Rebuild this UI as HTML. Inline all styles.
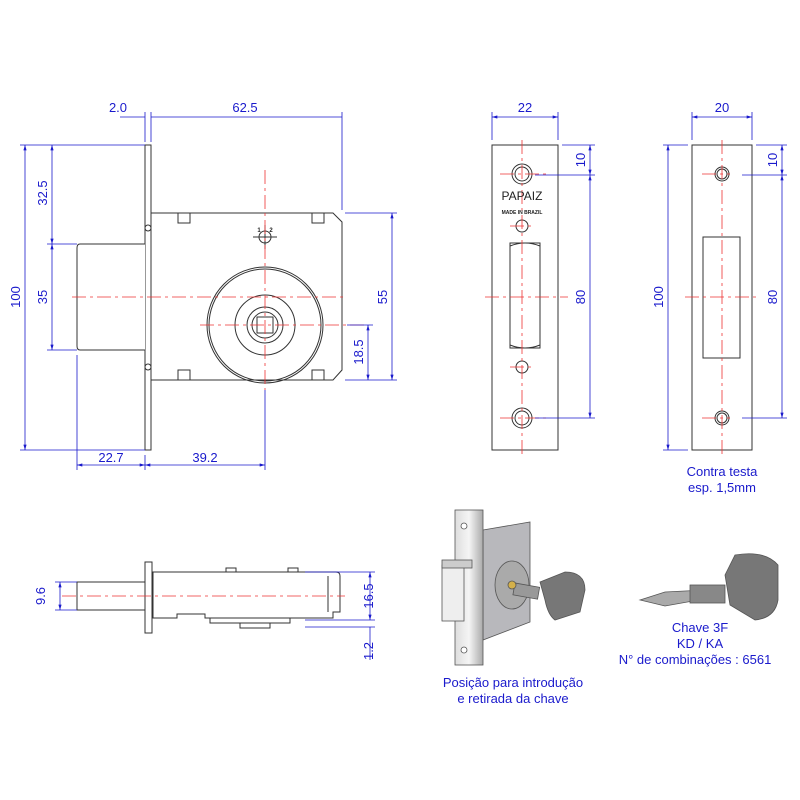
<!DOCTYPE html>
<html><head><style>body{margin:0;background:#fff}svg{display:block}</style></head><body>
<svg width="800" height="800" viewBox="0 0 800 800" xmlns="http://www.w3.org/2000/svg" font-family="Liberation Sans, sans-serif">
<defs><marker id="a" viewBox="0 0 10 6" refX="10" refY="3" markerWidth="8" markerHeight="4" orient="auto-start-reverse"><path d="M0,0L10,3L0,6z" fill="#1a1acc"/></marker>
<linearGradient id="g" x1="0" x2="1"><stop offset="0" stop-color="#ddd"/><stop offset="0.5" stop-color="#f5f5f5"/><stop offset="1" stop-color="#aaa"/></linearGradient></defs>
<g fill="none" stroke="#333" stroke-width="1">
<!-- main view -->
<rect x="145" y="145" width="6" height="305" fill="#fff"/>
<path d="M151 213H333L342 222V370L333 380H151Z" fill="#fff"/>
<path d="M145 244H80Q77 244 77 248V346Q77 350 80 350H145" fill="#fff"/>
<circle cx="265" cy="325" r="58"/><circle cx="265" cy="325" r="56"/><circle cx="265" cy="325" r="30"/>
<circle cx="265" cy="325" r="18"/><circle cx="265" cy="325" r="13"/>
<rect x="257" y="317" width="16" height="16"/>
<path d="M178 213v10h12v-10M312 213v10h12v-10M178 380v-10h12v10M312 380v-10h12v10"/>
<circle cx="265" cy="237" r="6"/><path d="M265 225v24M253 237h24"/>
<circle cx="148" cy="228" r="3"/><circle cx="148" cy="367" r="3"/>
<!-- faceplate -->
<rect x="492" y="145" width="66" height="305"/>
<circle cx="522" cy="174" r="10"/><circle cx="522" cy="174" r="7"/>
<circle cx="522" cy="418" r="10"/><circle cx="522" cy="418" r="7"/>
<circle cx="522" cy="226" r="6"/><circle cx="522" cy="367" r="6"/>
<rect x="510" y="243" width="30" height="105"/>
<path d="M510 246Q525 240 540 246M510 345Q525 351 540 345"/>
<!-- strike -->
<rect x="692" y="145" width="60" height="305"/>
<circle cx="722" cy="174" r="7"/><circle cx="722" cy="174" r="5"/>
<circle cx="722" cy="418" r="7"/><circle cx="722" cy="418" r="5"/>
<rect x="703" y="237" width="37" height="121"/>
<!-- side view -->
<rect x="145" y="562" width="7" height="71"/>
<rect x="77" y="582" width="68" height="28"/>
<path d="M152 572H336Q340 572 340 576V612H333V618H205V614H177V618H153V572"/>
<path d="M328 576V612M226 572v-4h10v4M288 572v-4h10v4M210 618v5h80v-5M240 623v5h30v-5"/>
</g>
<!-- red centerlines -->
<g stroke="#e33" stroke-width="0.8" stroke-dasharray="14,4,3,4" fill="none">
<path d="M72 297H347M200 325H365M265 170V390"/>
<path d="M485 297H568M522 140V455M500 174h50M500 418h50M510 226h25M510 367h25"/>
<path d="M685 297H760M722 140V455M702 174h28M702 418h28"/>
<path d="M62 596H345"/>
</g>
<!-- dimensions -->
<g stroke="#1a1acc" stroke-width="0.8" fill="none">
<path d="M145 142V112M151 142V112M342 210V112M120 117H145M151 117H342" />
<line x1="25" y1="145" x2="25" y2="450" marker-start="url(#a)" marker-end="url(#a)"/>
<line x1="52" y1="145" x2="52" y2="244" marker-start="url(#a)" marker-end="url(#a)"/>
<line x1="52" y1="244" x2="52" y2="350" marker-start="url(#a)" marker-end="url(#a)"/>
<path d="M20 145H145M47 244H77M47 350H77M20 450H145M345 213H397M345 380H397M347 325H373M77 355V470M145 455V470M265 390V470"/>
<line x1="392" y1="213" x2="392" y2="380" marker-start="url(#a)" marker-end="url(#a)"/>
<line x1="368" y1="325" x2="368" y2="380" marker-start="url(#a)" marker-end="url(#a)"/>
<line x1="77" y1="465" x2="145" y2="465" marker-start="url(#a)" marker-end="url(#a)"/>
<line x1="145" y1="465" x2="265" y2="465" marker-start="url(#a)" marker-end="url(#a)"/>
<line x1="492" y1="117" x2="558" y2="117" marker-start="url(#a)" marker-end="url(#a)"/>
<path d="M492 112V140M558 112V140M562 145H595M535 175H595M535 418H595"/>
<line x1="590" y1="145" x2="590" y2="175" marker-start="url(#a)" marker-end="url(#a)"/>
<line x1="590" y1="175" x2="590" y2="418" marker-start="url(#a)" marker-end="url(#a)"/>
<line x1="692" y1="117" x2="752" y2="117" marker-start="url(#a)" marker-end="url(#a)"/>
<path d="M692 112V140M752 112V140M756 145H787M742 175H787M742 418H787M663 145H688M663 450H688"/>
<line x1="782" y1="145" x2="782" y2="175" marker-start="url(#a)" marker-end="url(#a)"/>
<line x1="782" y1="175" x2="782" y2="418" marker-start="url(#a)" marker-end="url(#a)"/>
<line x1="668" y1="145" x2="668" y2="450" marker-start="url(#a)" marker-end="url(#a)"/>
<path d="M55 582H77M55 610H77M305 572H375M305 620H375M305 627H375"/>
<line x1="60" y1="582" x2="60" y2="610" marker-start="url(#a)" marker-end="url(#a)"/>
<line x1="370" y1="572" x2="370" y2="620" marker-start="url(#a)" marker-end="url(#a)"/>
<path d="M370 627V660"/>
</g>
<g fill="#1a1acc" font-size="13" text-anchor="middle">
<text x="118" y="112">2.0</text><text x="245" y="112">62.5</text>
<text x="111" y="470" dy="-8">22.7</text><text x="205" y="462">39.2</text>
<text x="525" y="112">22</text><text x="722" y="112">20</text>
<text transform="translate(20,297) rotate(-90)">100</text>
<text transform="translate(47,193) rotate(-90)">32.5</text>
<text transform="translate(47,297) rotate(-90)">35</text>
<text transform="translate(387,297) rotate(-90)">55</text>
<text transform="translate(363,352) rotate(-90)">18.5</text>
<text transform="translate(585,160) rotate(-90)">10</text>
<text transform="translate(585,297) rotate(-90)">80</text>
<text transform="translate(777,160) rotate(-90)">10</text>
<text transform="translate(777,297) rotate(-90)">80</text>
<text transform="translate(663,297) rotate(-90)">100</text>
<text transform="translate(45,596) rotate(-90)">9.6</text>
<text transform="translate(373,596) rotate(-90)">16.5</text>
<text transform="translate(373,651) rotate(-90)">1.2</text>
<text x="722" y="476">Contra testa</text><text x="722" y="492">esp. 1,5mm</text>
<text x="513" y="687">Posição para introdução</text><text x="513" y="703">e retirada da chave</text>
<text x="700" y="632">Chave 3F</text><text x="700" y="648">KD / KA</text><text x="695" y="664">N° de combinações : 6561</text>
</g>
<g font-size="7" fill="#222" text-anchor="middle" font-weight="bold">
<text x="522" y="200" font-size="12" font-weight="normal">PAPAIZ</text><text x="522" y="214" font-size="5">MADE IN BRAZIL</text>
<text x="259" y="232" font-size="6">1</text><text x="271" y="232" font-size="6">2</text>
</g>
<!-- 3D lock -->
<g stroke="#555" stroke-width="0.8">
<path d="M483 530L530 522V622L483 640Z" fill="#b8b8bc"/>
<rect x="455" y="510" width="28" height="155" fill="url(#g)"/>
<rect x="442" y="565" width="22" height="56" fill="#eee"/>
<rect x="442" y="560" width="30" height="8" fill="#ccc"/>
<ellipse cx="512" cy="585" rx="17" ry="24" fill="#aaa"/>
<rect x="515" y="583" width="25" height="12" fill="#999" transform="rotate(10 515 583)"/>
<path d="M540 582L565 572Q585 572 585 590L580 612L555 620Q548 615 545 600Z" fill="#777"/>
<circle cx="464" cy="526" r="3" fill="#fff"/><circle cx="464" cy="650" r="3" fill="#fff"/>
<circle cx="512" cy="585" r="4" fill="#d4b04a"/>
<path d="M640 600L665 592L705 590L710 598L665 606Z" fill="#aaa"/>
<rect x="690" y="585" width="35" height="18" fill="#888"/>
<path d="M725 575L735 555Q765 550 778 565L778 600Q775 618 755 620L730 605Z" fill="#777"/>
</g>
</svg>
</body></html>
